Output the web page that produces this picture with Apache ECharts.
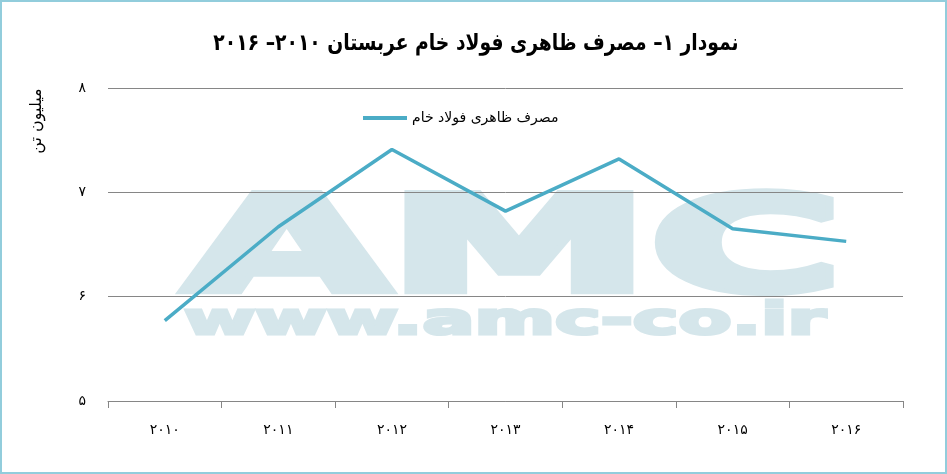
<!DOCTYPE html>
<html>
<head>
<meta charset="utf-8">
<script src="https://cdn.jsdelivr.net/npm/echarts@6/dist/echarts.min.js"></script>
<style>
html,body{margin:0;padding:0;background:#fff;}
#c{width:947px;height:474px;}
</style>
</head>
<body>
<div id="c" dir="rtl"></div>
<script>
const categories = ['۲۰۱۰','۲۰۱۱','۲۰۱۲','۲۰۱۳','۲۰۱۴','۲۰۱۵','۲۰۱۶'];
const consumption = [5.77, 6.67, 7.41, 6.82, 7.32, 6.65, 6.53];
const yTickLabels = {5:'۵',6:'۶',7:'۷',8:'۸'};
const seriesName = 'مصرف ظاهری فولاد خام';
const titleText = 'نمودار ۱– مصرف ظاهری فولاد خام عربستان ۲۰۱۰– ۲۰۱۶';
const yName = 'میلیون تن';

const chart = echarts.init(document.getElementById('c'), null, {renderer:'canvas'});
const wm = '#D5E6EB';
chart.setOption({
  animation:false,
  backgroundColor:'#fff',
  legend:{
    data:[seriesName], left:358, top:106,
    itemWidth:44, itemHeight:4, itemGap:5,
    icon:'rect',
    textStyle:{fontFamily:'DejaVu Sans', fontSize:14, color:'#000'}
  },
  grid:{left:108, right:44, top:88, bottom:73, containLabel:false},
  graphic:[
    {type:'rect', z:100, silent:true, shape:{x:1, y:1, width:945, height:472},
     style:{fill:'none', stroke:'#92CDDC', lineWidth:2}},
    {type:'text', silent:true, x:476, y:44, scaleX:0.815, scaleY:1,
     style:{text:titleText, fill:'#000', font:'bold 23px "DejaVu Sans"', textAlign:'center', textVerticalAlign:'middle'}},
    {type:'text', z:-10, silent:true, x:185, y:190, scaleX:1.99, scaleY:1,
     style:{text:'AMC', fill:wm, stroke:wm, lineWidth:8, lineJoin:'miter', font:'bold 132px "DejaVu Sans"', textVerticalAlign:'top', textAlign:'left'}},
    {type:'text', z:-10, silent:true, x:184, y:301, scaleX:1.755, scaleY:1,
     style:{text:'www.amc-co.ir', fill:wm, stroke:wm, lineWidth:3, font:'bold 44px "DejaVu Sans"', textVerticalAlign:'top', textAlign:'left'}},
    {type:'text', silent:true, x:37, y:121, rotation:Math.PI/2,
     style:{text:yName, fill:'#000', font:'16px "DejaVu Sans"', textAlign:'center', textVerticalAlign:'middle'}}
  ],
  xAxis:{
    type:'category', data:categories, boundaryGap:true,
    axisLine:{lineStyle:{color:'#868686', width:1}},
    axisTick:{show:true, length:7, lineStyle:{color:'#868686'}},
    axisLabel:{margin:22, fontFamily:'DejaVu Sans', fontSize:14, color:'#000'},
    splitLine:{show:false}
  },
  yAxis:{
    type:'value', min:5, max:8, interval:1,
    axisLine:{show:false}, axisTick:{show:false},
    axisLabel:{margin:22, fontFamily:'DejaVu Sans', fontSize:14, color:'#000',
      formatter:v=>yTickLabels[v]||''},
    splitLine:{show:true, lineStyle:{color:'#868686', width:1}}
  },
  series:[{
    name:seriesName, type:'line', data:consumption,
    showSymbol:false, symbol:'none',
    lineStyle:{color:'#4BACC6', width:3.5},
    itemStyle:{color:'#4BACC6'},
    z:5
  }]
});
</script>
</body>
</html>
